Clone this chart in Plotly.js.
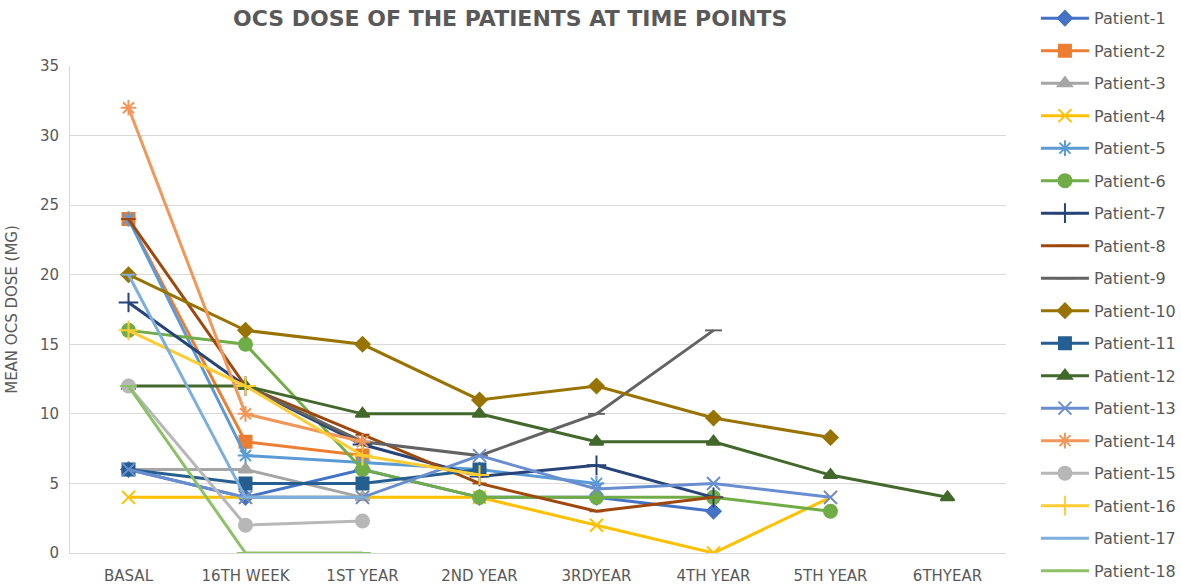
<!DOCTYPE html>
<html>
<head>
<meta charset="utf-8">
<script src="https://cdn.plot.ly/plotly-3.0.1.min.js"></script>
<style>html,body{margin:0;padding:0;background:#fff;}#chart{width:1181px;height:584px;}</style>
</head>
<body>
<div id="chart"></div>
<script>
const timePoints = ["BASAL", "16TH WEEK", "1ST YEAR", "2ND YEAR", "3RDYEAR", "4TH YEAR", "5TH YEAR", "6THYEAR"];
const patientNames = ["Patient-1","Patient-2","Patient-3","Patient-4","Patient-5","Patient-6","Patient-7","Patient-8","Patient-9","Patient-10","Patient-11","Patient-12","Patient-13","Patient-14","Patient-15","Patient-16","Patient-17","Patient-18"];

const patient1  = [6, 4, 6, 4, 4, 3, null, null];
const patient2  = [24, 8, 7, null, null, null, null, null];
const patient3  = [6, 6, 4, null, null, null, null, null];
const patient4  = [4, 4, 4, 4, 2, 0, 4, null];
const patient5  = [24, 7, 6.5, 6, 5, null, null, null];
const patient6  = [16, 15, 6, 4, 4, 4, 3, null];
const patient7  = [18, 12, 7.8, 5.5, 6.3, 4, null, null];
const patient8  = [24, 12, 8.5, 5, 3, 4, null, null];
const patient9  = [null, 12, 8, 7, 10, 16, null, null];
const patient10 = [20, 16, 15, 11, 12, 9.7, 8.3, null];
const patient11 = [6, 5, 5, 6, null, null, null, null];
const patient12 = [12, 12, 10, 10, 8, 8, 5.6, 4];
const patient13 = [6, 4, 4, 7, 4.6, 5, 4, null];
const patient14 = [32, 10, 8, null, null, null, null, null];
const patient15 = [12, 2, 2.3, null, null, null, null, null];
const patient16 = [16, 12, 7, 5.6, null, null, null, null];
const patient17 = [20, 4, 4, null, null, null, null, null];
const patient18 = [12, 0, 0, null, null, null, null, null];

const seriesValues = [patient1,patient2,patient3,patient4,patient5,patient6,patient7,patient8,patient9,patient10,patient11,patient12,patient13,patient14,patient15,patient16,patient17,patient18];

const colors = ["#4472C4","#ED7D31","#A5A5A5","#FFC000","#5B9BD5","#70AD47","#264478","#9E480E","#636363","#997300","#255E91","#43682B","#698ED0","#F1975A","#B7B7B7","#FFCD33","#7CAFDD","#8CC168"];
const symbols = ["diamond","square","triangle-up","x-thin-open","asterisk-open","circle","cross-thin-open","line-ew-open","line-ew-open","diamond","square","triangle-up","x-thin-open","asterisk-open","circle","cross-thin-open","line-ew-open","line-ew-open"];
const sizes = [11,12,12,13,13,13,14,10,12,11,12,12,13,13,13,14,10,12];

const traces = seriesValues.map((vals, i) => ({
  type: "scatter",
  mode: "lines+markers",
  name: patientNames[i],
  legendgroup: "g" + i,
  x: timePoints,
  y: vals,
  connectgaps: false,
  line: {color: colors[i], width: 3},
  marker: {symbol: symbols[i], size: sizes[i], color: colors[i], line: {color: colors[i], width: 2}}
}));

const layout = {
  width: 1181, height: 584,
  margin: {l: 70, r: 175, t: 66, b: 31, autoexpand: false},
  paper_bgcolor: "#ffffff", plot_bgcolor: "#ffffff",
  font: {family: "DejaVu Sans, sans-serif", color: "#595959"},
  title: {
    text: "<b>OCS DOSE OF THE PATIENTS AT TIME POINTS</b>",
    font: {family: "DejaVu Sans, sans-serif", size: 22, color: "#595959"},
    x: 0.432, xanchor: "center", y: 0.968, yanchor: "middle"
  },
  xaxis: {
    type: "category",
    range: [-0.5, 7.5],
    showgrid: false,
    showline: true, linecolor: "#D9D9D9", linewidth: 1,
    ticks: "",
    ticklabelstandoff: 9,
    tickfont: {family: "DejaVu Sans, sans-serif", size: 15, color: "#595959"},
    zeroline: false
  },
  yaxis: {
    range: [0, 35],
    dtick: 5,
    showgrid: true, gridcolor: "#D9D9D9", gridwidth: 1,
    showline: true, linecolor: "#D9D9D9", linewidth: 1,
    zeroline: false,
    ticks: "",
    ticklabelstandoff: 7,
    tickfont: {family: "DejaVu Sans, sans-serif", size: 15, color: "#595959"},
    title: {text: "MEAN OCS DOSE (MG)", font: {family: "DejaVu Sans, sans-serif", size: 15, color: "#595959"}, standoff: 18}
  },
  showlegend: true,
  legend: {
    x: 1.032, xanchor: "left",
    y: 1.133, yanchor: "top",
    maxheight: 600,
    font: {family: "DejaVu Sans, sans-serif", size: 16, color: "#595959"},
    tracegroupgap: 8.7,
    itemwidth: 48,
    bgcolor: "rgba(0,0,0,0)"
  }
};

Plotly.newPlot("chart", traces, layout, {displayModeBar: false, staticPlot: true});
</script>
</body>
</html>
